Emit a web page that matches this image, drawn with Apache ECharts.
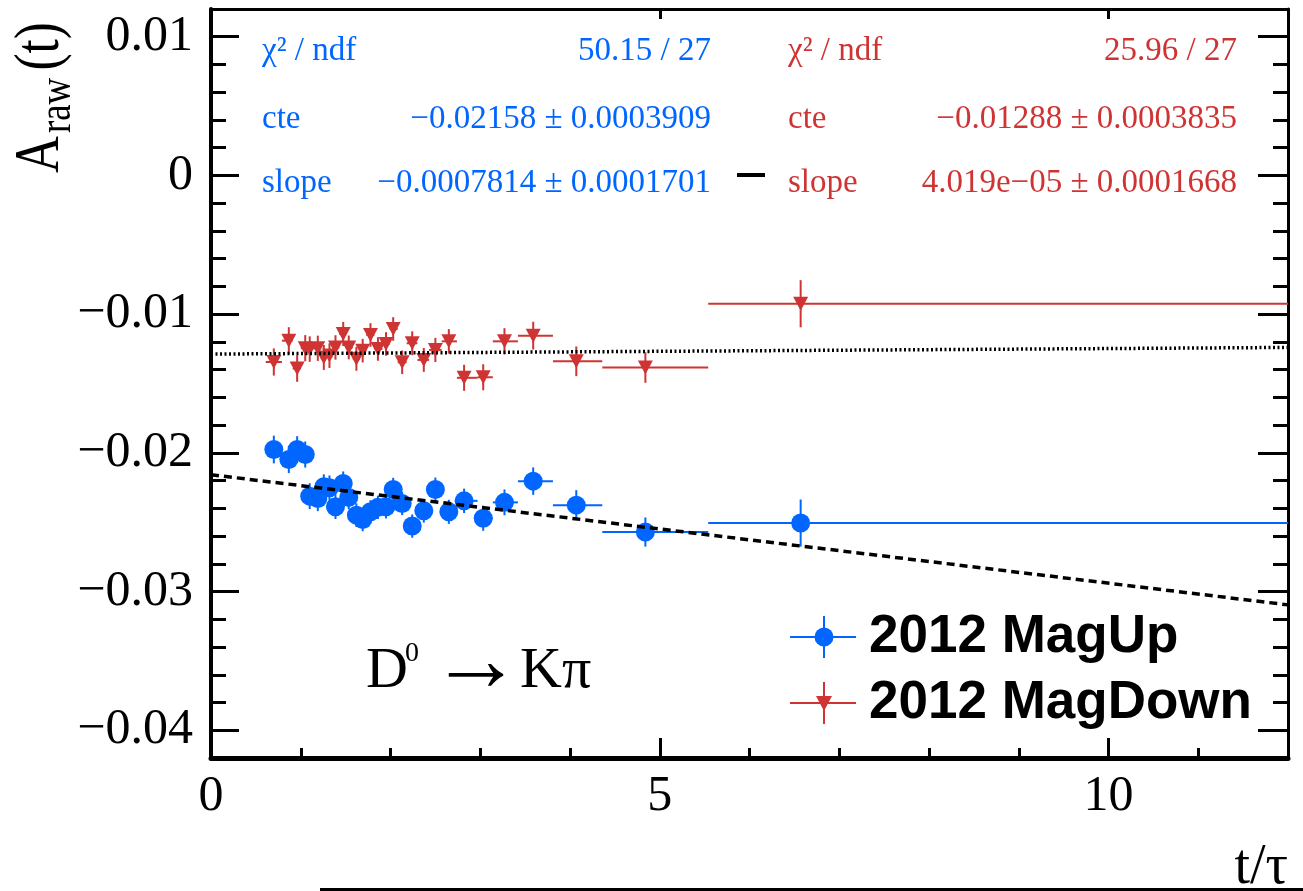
<!DOCTYPE html>
<html>
<head>
<meta charset="utf-8">
<script src="https://cdn.jsdelivr.net/npm/echarts@6/dist/echarts.min.js"></script>
<style>
  html, body { margin: 0; padding: 0; background: #fff; }
  #chart { width: 1303px; height: 891px; }
</style>
</head>
<body>
<div id="chart"></div>
<script>
// Raw asymmetry vs decay time, D0 -> K pi, 2012 MagUp / MagDown with linear fits.
const SERIF = "'Liberation Serif', 'DejaVu Serif', serif";
const SANS = "'Liberation Sans', Arial, sans-serif";
const BLUE = '#0066ff';
const RED = '#cf3434';

// bins in t/tau (same for both polarities)
const binEdges = [0.61, 0.79, 0.91, 1.00, 1.08, 1.14, 1.22, 1.29, 1.35, 1.43, 1.50, 1.58, 1.66, 1.73,
  1.82, 1.91, 1.99, 2.08, 2.18, 2.30, 2.43, 2.57, 2.74, 2.97, 3.14, 3.42, 3.81, 4.36, 5.54, 12.0];
const tCentre = [0.70, 0.867, 0.96, 1.05, 1.10, 1.19, 1.257, 1.32, 1.387, 1.473, 1.535, 1.62, 1.69,
  1.777, 1.86, 1.95, 2.03, 2.13, 2.242, 2.371, 2.50, 2.65, 2.82, 3.033, 3.27, 3.59, 4.07, 4.84, 6.57];

const aUp = [-0.01976, -0.02048, -0.01976, -0.02012, -0.02312, -0.02329, -0.02245, -0.02252, -0.02389,
  -0.02221, -0.02321, -0.02449, -0.02480, -0.02425, -0.02393, -0.02389, -0.02264, -0.02365, -0.02528,
  -0.02418, -0.02264, -0.02425, -0.02346, -0.02472, -0.02357, -0.02204, -0.02377, -0.02571, -0.02506];
const errUp = [0.00100, 0.00098, 0.00096, 0.00094, 0.00093, 0.00091, 0.00090, 0.00089, 0.00088, 0.00087,
  0.00086, 0.00085, 0.00085, 0.00084, 0.00084, 0.00084, 0.00084, 0.00084, 0.00084, 0.00085, 0.00086,
  0.00087, 0.00088, 0.00090, 0.00093, 0.00099, 0.00108, 0.00105, 0.00170];

const aDown = [-0.01345, -0.01191, -0.01392, -0.01245, -0.01252, -0.01246, -0.01312, -0.01299, -0.01240,
  -0.01143, -0.01240, -0.01322, -0.01263, -0.01150, -0.01251, -0.01215, -0.01107, -0.01347, -0.01210,
  -0.01330, -0.01258, -0.01196, -0.01459, -0.01455, -0.01196, -0.01155, -0.01340, -0.01385, -0.00925];
const errDown = [0.00098, 0.00097, 0.00096, 0.00094, 0.00092, 0.00091, 0.00090, 0.00089, 0.00088, 0.00087,
  0.00086, 0.00086, 0.00085, 0.00085, 0.00085, 0.00085, 0.00085, 0.00085, 0.00086, 0.00086, 0.00087,
  0.00088, 0.00094, 0.00094, 0.00095, 0.00100, 0.00107, 0.00110, 0.00170];

// fitted lines, end points at t = 0 and t = 12
const fitUp = [[0, -0.02158], [12, -0.03096]];
const fitDown = [[0, -0.01288], [12, -0.01240]];

const statsUp = [['χ² / ndf', '50.15 / 27'], ['cte', '−0.02158 ± 0.0003909'], ['slope', '−0.0007814 ± 0.0001701']];
const statsDown = [['χ² / ndf', '25.96 / 27'], ['cte', '−0.01288 ± 0.0003835'], ['slope', '4.019e−05 ± 0.0001668']];

const xTickValues = [0, 5, 10];
const xTickLabels = ['0', '5', '10'];
const yTickValues = [-0.04, -0.03, -0.02, -0.01, 0, 0.01];
const yTickLabels = ['−0.04', '−0.03', '−0.02', '−0.01', '0', '0.01'];

const seriesNames = ['2012 MagUp', '2012 MagDown'];

function labelFor(values, labels) {
  return (v) => {
    const i = values.findIndex((u) => Math.abs(u - v) < 1e-9);
    return i < 0 ? '' : labels[i];
  };
}

function points(values, errors) {
  return tCentre.map((t, i) => [t, values[i], binEdges[i], binEdges[i + 1], errors[i]]);
}

function errorBars(color) {
  return (params, api) => {
    const t = api.value(0), a = api.value(1), e = api.value(4);
    const c = api.coord([t, a]);
    const lo = api.coord([api.value(2), a]);
    const hi = api.coord([api.value(3), a]);
    const top = api.coord([t, a + e]);
    const bot = api.coord([t, a - e]);
    const style = { stroke: color, lineWidth: 2 };
    return {
      type: 'group',
      children: [
        { type: 'line', shape: { x1: lo[0], y1: c[1], x2: hi[0], y2: c[1] }, style },
        { type: 'line', shape: { x1: c[0], y1: top[1], x2: c[0], y2: bot[1] }, style },
      ],
    };
  };
}

const tickLine = { color: '#000', width: 3 };
const labelFont = { fontFamily: SERIF, fontSize: 50, color: '#000' };

function xAxisDef(position, major) {
  return {
    type: 'value', position, min: 0, max: 12,
    interval: major ? undefined : 1,
    axisLine: { show: major, onZero: false, lineStyle: { color: '#000', width: position === 'bottom' ? 5 : 3 } },
    axisTick: major
      ? { inside: true, length: position === 'bottom' ? 20 : 10, lineStyle: tickLine, customValues: xTickValues }
      : { inside: true, length: 10, lineStyle: tickLine },
    axisLabel: major && position === 'bottom'
      ? Object.assign({ customValues: xTickValues, formatter: labelFor(xTickValues, xTickLabels), margin: 14 }, labelFont)
      : { show: false },
    splitLine: { show: false },
  };
}

function yAxisDef(position, major) {
  return {
    type: 'value', position, min: -0.042, max: 0.012,
    interval: major ? undefined : 0.002,
    axisLine: { show: major, onZero: false, lineStyle: { color: '#000', width: position === 'left' ? 4 : 3 } },
    axisTick: major
      ? { inside: true, length: position === 'left' ? 28 : 30, lineStyle: tickLine, customValues: yTickValues }
      : { inside: true, length: 15, lineStyle: tickLine },
    axisLabel: major && position === 'left'
      ? Object.assign({ customValues: yTickValues, formatter: labelFor(yTickValues, yTickLabels), margin: 18 }, labelFont)
      : { show: false },
    splitLine: { show: false },
  };
}

function statsBlock(rows, color, left, right) {
  const ys = [51, 119, 183];
  const out = [];
  rows.forEach(([name, value], i) => {
    out.push({ type: 'text', x: left, y: ys[i], style: { text: name, fill: color, fontFamily: SERIF, fontSize: 33, align: 'left', verticalAlign: 'middle' } });
    out.push({ type: 'text', x: right, y: ys[i], style: { text: value, fill: color, fontFamily: SERIF, fontSize: 33, align: 'right', verticalAlign: 'middle' } });
  });
  return out;
}

function legendEntry(y, name, color, symbol) {
  const marker = symbol === 'circle'
    ? { type: 'circle', shape: { cx: 824, cy: y, r: 9.5 }, style: { fill: color } }
    : { type: 'polygon', shape: { points: [[816, y - 7], [832, y - 7], [824, y + 8]] }, style: { fill: color } };
  return [
    { type: 'line', shape: { x1: 790, y1: y, x2: 856, y2: y }, style: { stroke: color, lineWidth: 2 } },
    { type: 'line', shape: { x1: 824, y1: y - 21, x2: 824, y2: y + 21 }, style: { stroke: color, lineWidth: 2 } },
    marker,
    { type: 'text', x: 869, y, style: { text: name, fill: '#000', fontFamily: SANS, fontWeight: 'bold', fontSize: 53, align: 'left', verticalAlign: 'middle' } },
  ];
}

const chart = echarts.init(document.getElementById('chart'), null, { renderer: 'canvas' });

chart.setOption({
  animation: false,
  backgroundColor: '#fff',
  grid: { left: 211, top: 9, width: 1077, height: 749, containLabel: false },
  xAxis: [xAxisDef('bottom', true), xAxisDef('bottom', false), xAxisDef('top', true)],
  yAxis: [yAxisDef('left', true), yAxisDef('left', false), yAxisDef('right', true), yAxisDef('right', false)],
  series: [
    { name: seriesNames[0] + ' err', type: 'custom', clip: true, renderItem: errorBars(BLUE),
      encode: { x: 0, y: 1 }, data: points(aUp, errUp), z: 2 },
    { name: seriesNames[1] + ' err', type: 'custom', clip: true, renderItem: errorBars(RED),
      encode: { x: 0, y: 1 }, data: points(aDown, errDown), z: 2 },
    { name: seriesNames[0], type: 'scatter', symbol: 'circle', symbolSize: 19,
      itemStyle: { color: BLUE, opacity: 1 }, data: tCentre.map((t, i) => [t, aUp[i]]), z: 3 },
    { name: seriesNames[1], type: 'scatter', symbol: 'triangle', symbolRotate: 180, symbolSize: [15, 14],
      itemStyle: { color: RED, opacity: 1 }, data: tCentre.map((t, i) => [t, aDown[i]]), z: 3 },
    { name: 'fit MagUp', type: 'line', data: fitUp, showSymbol: false, symbol: 'none', z: 4,
      lineStyle: { color: '#000', width: 3.5, type: [8, 5] } },
    { name: 'fit MagDown', type: 'line', data: fitDown, showSymbol: false, symbol: 'none', z: 4,
      lineStyle: { color: '#000', width: 3.5, type: [2, 2.5] } },
  ],
  graphic: [
    // y-axis title, rotated: A_raw(t)
    {
      type: 'group', x: 41, y: 173, rotation: Math.PI / 2, scaleX: 0.8,
      children: [
        { type: 'text', x: 0, y: 0, style: { text: 'A', fontFamily: SERIF, fontSize: 64, fill: '#000', align: 'left', verticalAlign: 'middle' } },
        { type: 'text', x: 50, y: 17, style: { text: 'raw', fontFamily: SERIF, fontSize: 46, fill: '#000', align: 'left', verticalAlign: 'middle' } },
        { type: 'text', x: 128, y: 0, style: { text: '(t)', fontFamily: SERIF, fontSize: 64, fill: '#000', align: 'left', verticalAlign: 'middle' } },
      ],
    },
    // x-axis title
    { type: 'text', x: 1288, y: 868, style: { text: 't/τ', fontFamily: SERIF, fontSize: 56, fill: '#000', align: 'right', verticalAlign: 'middle' } },
    // decay label
    { type: 'text', x: 366, y: 672, style: { text: 'D', fontFamily: SERIF, fontSize: 58, fill: '#000', align: 'left', verticalAlign: 'middle' } },
    { type: 'text', x: 405, y: 654, style: { text: '0', fontFamily: SERIF, fontSize: 28, fill: '#000', align: 'left', verticalAlign: 'middle' } },
    { type: 'text', x: 430, y: 666, style: { text: '→', fontFamily: SERIF, fontSize: 92, fill: '#000', align: 'left', verticalAlign: 'middle' } },
    { type: 'text', x: 520, y: 672, style: { text: 'Kπ', fontFamily: SERIF, fontSize: 58, fill: '#000', align: 'left', verticalAlign: 'middle' } },
    // fit stat boxes
    ...statsBlock(statsUp, BLUE, 262, 711),
    ...statsBlock(statsDown, RED, 788, 1237),
    { type: 'rect', shape: { x: 737, y: 173, width: 28, height: 4 }, style: { fill: '#000' } },
    // legend
    ...legendEntry(637, seriesNames[0], BLUE, 'circle'),
    ...legendEntry(703, seriesNames[1], RED, 'triangle'),
    // page rule at the bottom
    { type: 'rect', shape: { x: 320, y: 888, width: 983, height: 3 }, style: { fill: '#000' } },
  ],
});
</script>
</body>
</html>
